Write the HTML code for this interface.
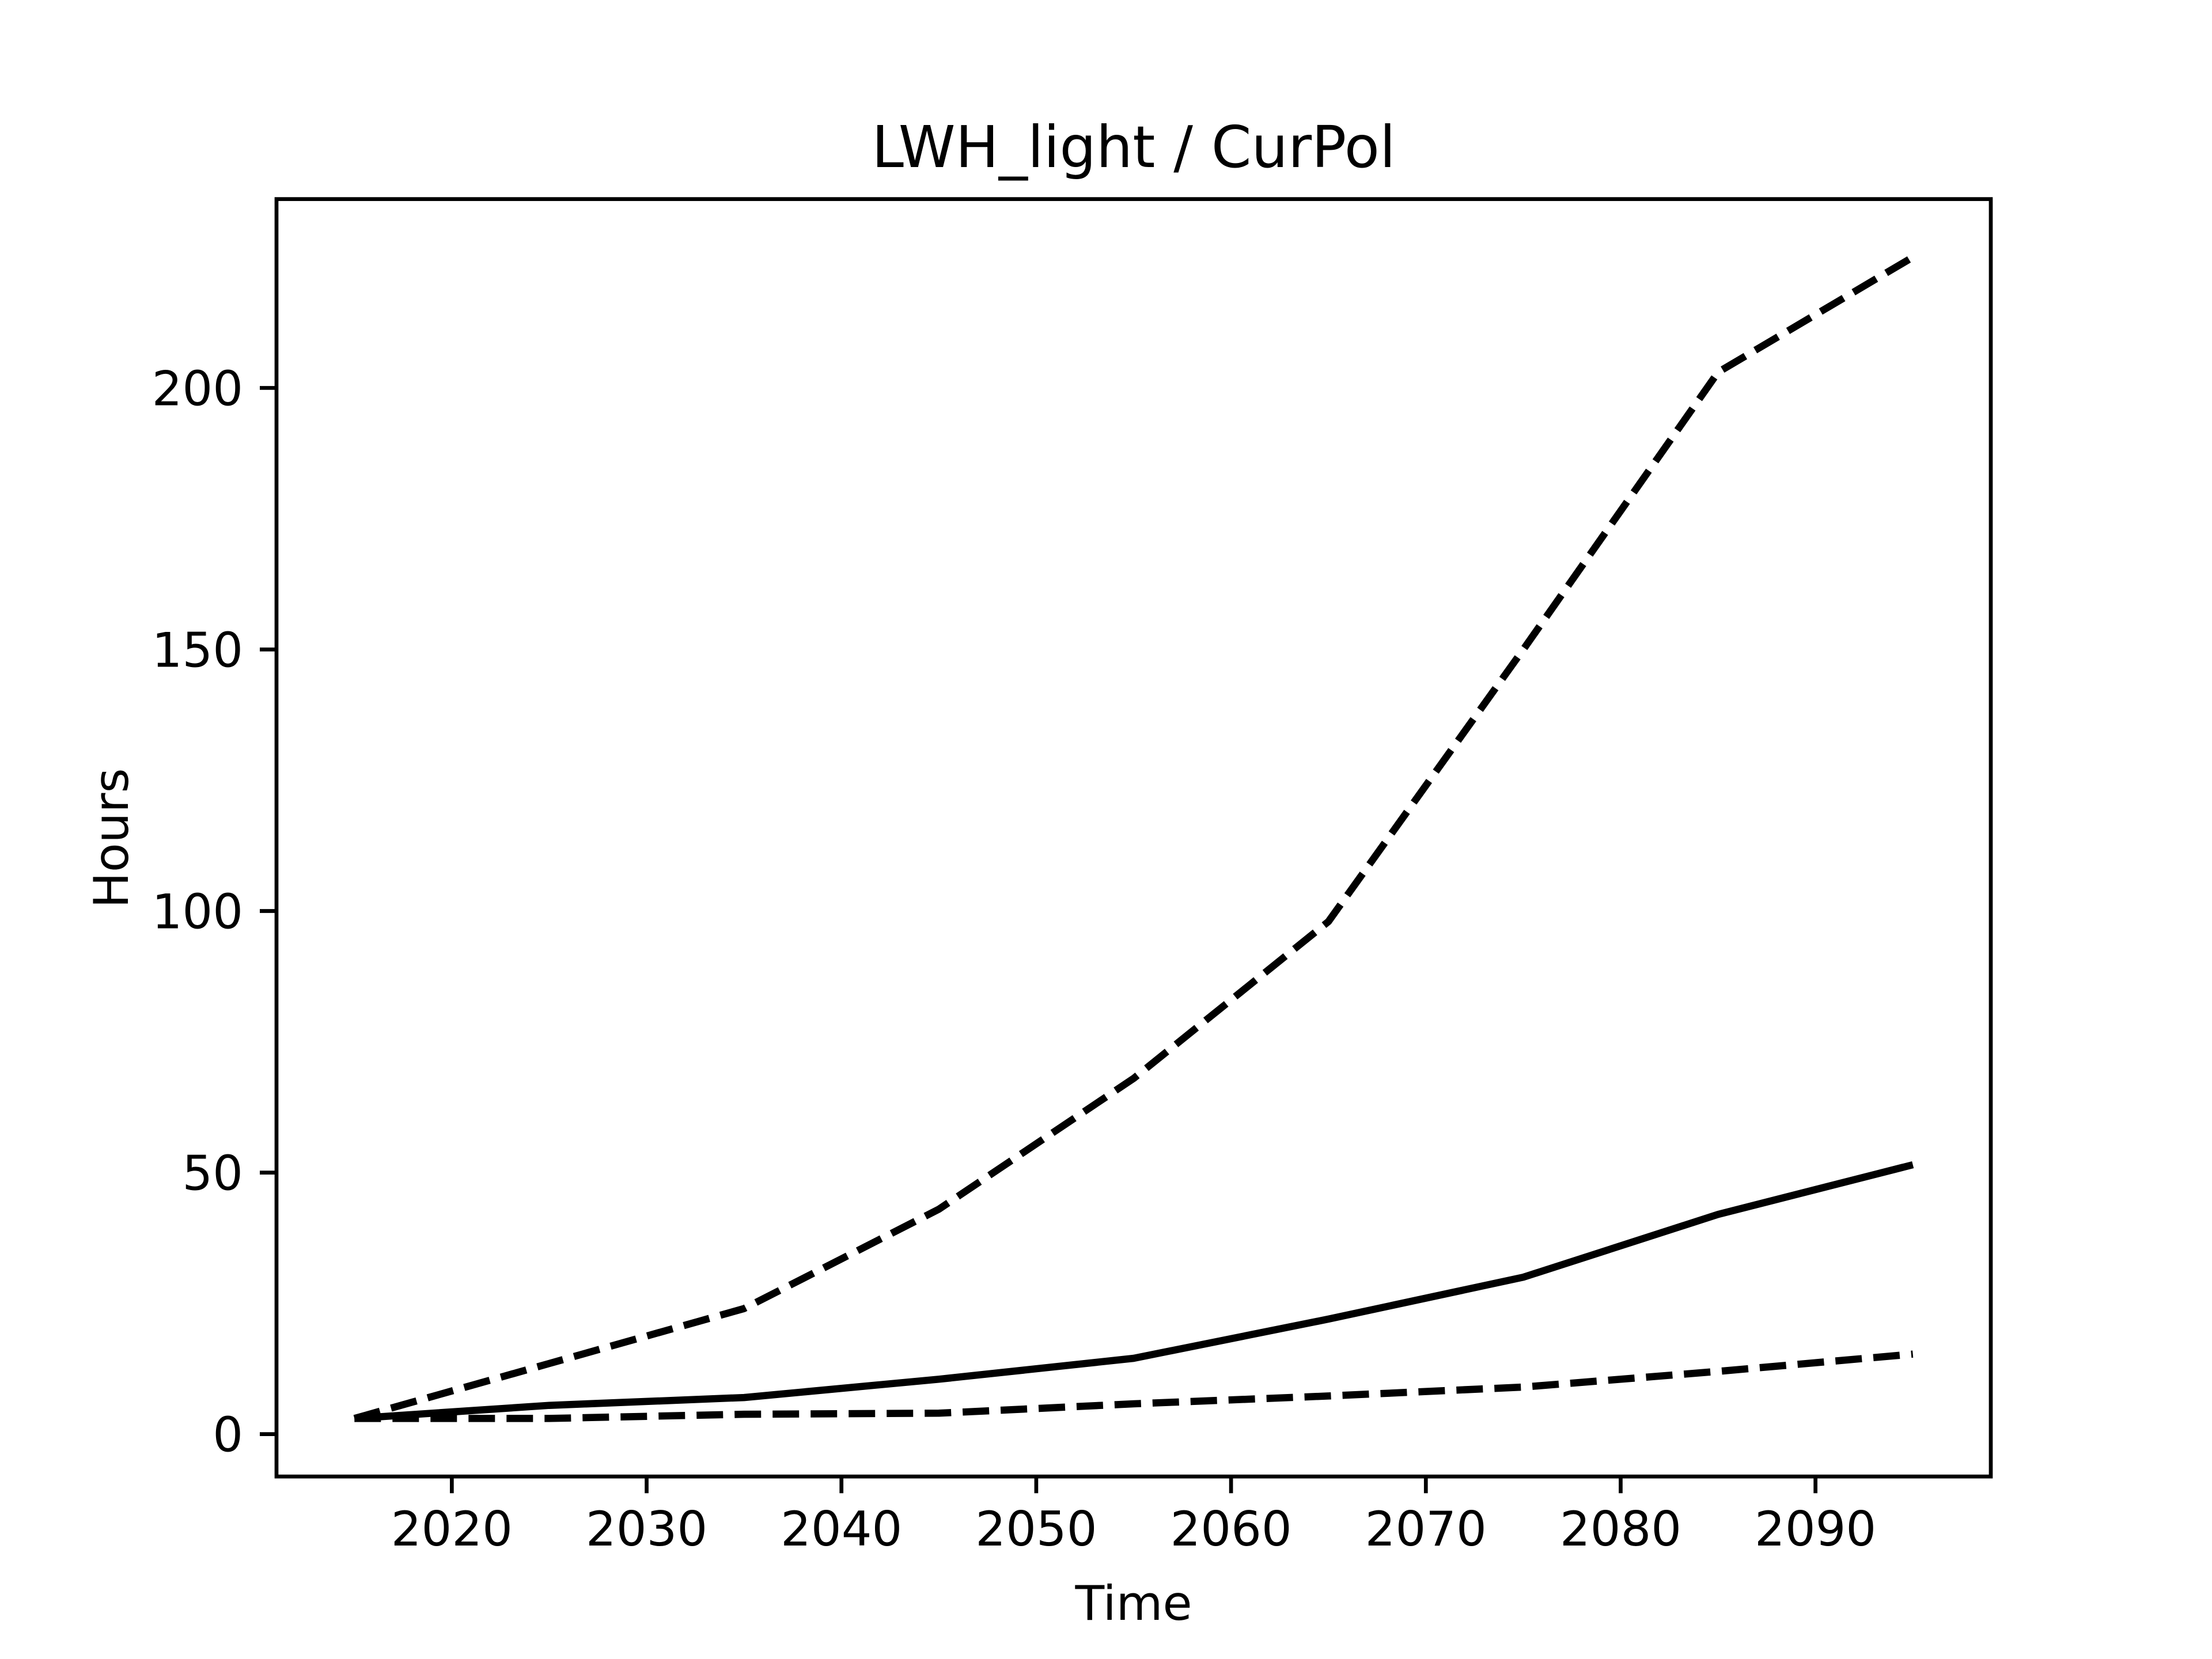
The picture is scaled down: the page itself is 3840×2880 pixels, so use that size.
<!DOCTYPE html>
<html><head><meta charset="utf-8"><style>html,body{margin:0;padding:0;background:#fff}svg{display:block}text{font-family:"DejaVu Sans","Liberation Sans",sans-serif;fill:#000}</style></head>
<body>
<svg id="chart" width="3840" height="2880" viewBox="0 0 3840 2880" xmlns="http://www.w3.org/2000/svg">
<rect width="3840" height="2880" fill="#fff"/>
<text x="1968" y="290" font-size="100" text-anchor="middle">LWH_light / CurPol</text>
<text x="1968" y="2812" font-size="83" text-anchor="middle">Time</text>
<text x="0" y="0" font-size="83" text-anchor="middle" transform="translate(222,1455) rotate(-90)">Hours</text>
<g id="plot"></g>
<rect x="480" y="345.6" width="2976" height="2217.6" fill="none" stroke="#000" stroke-width="6.7"/>
</svg>
<script>
const years = [2015, 2025, 2035, 2045, 2055, 2065, 2075, 2085, 2095];
const upperValues = [3, 13.5, 24, 43, 68, 98, 150, 203, 225];
const meanValues = [3, 5.5, 7, 10.5, 14.5, 22, 30, 42, 51.5];
const lowerValues = [3, 3, 3.8, 4, 5.8, 7.3, 9, 12, 15.3];
const xTicks = [2020, 2030, 2040, 2050, 2060, 2070, 2080, 2090];
const yTicks = [0, 50, 100, 150, 200];

const L = 480, R = 3456, T = 345.6, B = 2563.2;
const allV = upperValues.concat(meanValues, lowerValues);
const vmin = Math.min(...allV), vmax = Math.max(...allV);
const ymin = vmin - 0.05 * (vmax - vmin), ymax = vmax + 0.05 * (vmax - vmin);
const xmin0 = Math.min(...years), xmax0 = Math.max(...years);
const xmin = xmin0 - 0.05 * (xmax0 - xmin0), xmax = xmax0 + 0.05 * (xmax0 - xmin0);
const xs = v => L + (v - xmin) / (xmax - xmin) * (R - L);
const ys = v => B - (v - ymin) / (ymax - ymin) * (B - T);
const NS = "http://www.w3.org/2000/svg";
const g = document.getElementById('plot');

function mk(tag, attrs) {
  const e = document.createElementNS(NS, tag);
  for (const k in attrs) e.setAttribute(k, attrs[k]);
  g.appendChild(e);
  return e;
}

xTicks.forEach(t => {
  const x = xs(t);
  const l = mk('line', {x1: x, x2: x, y1: B, y2: B + 29, stroke: '#000', 'stroke-width': 6.7});
  
  
  const tx = mk('text', {x: x, y: B + 29 + 29 + 62, 'font-size': 83, 'text-anchor': 'middle'});
  tx.textContent = t;
  
  
});

yTicks.forEach(t => {
  const y = ys(t);
  const l = mk('line', {x1: L - 29, x2: L, y1: y, y2: y, stroke: '#000', 'stroke-width': 6.7});
  
  
  const tx = mk('text', {x: L - 29 - 29, y: y + 30, 'font-size': 83, 'text-anchor': 'end'});
  tx.textContent = t;
  
  
});

function series(vals, dashed, name) {
  const d = vals.map((v, i) => (i ? 'L' : 'M') + xs(years[i]).toFixed(1) + ',' + ys(v).toFixed(1)).join(' ');
  const p = mk('path', {d: d, fill: 'none', stroke: '#000', 'stroke-width': 12.5, 'stroke-linejoin': 'round'});
  if (dashed) p.setAttribute('stroke-dasharray', '46 20');
  
  
}
series(upperValues, true, 'upper-bound-line');
series(meanValues, false, 'central-line');
series(lowerValues, true, 'lower-bound-line');
</script>
</body></html>
